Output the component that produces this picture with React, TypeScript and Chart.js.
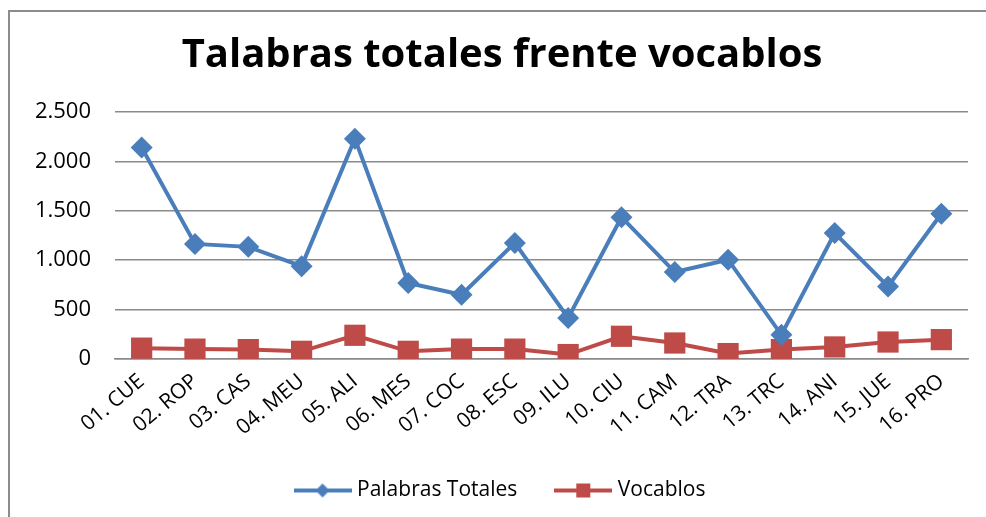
import React, { useEffect, useRef } from "react";
import { Chart, registerables } from "chart.js";

Chart.register(...registerables);

const categories = [
  "01. CUE", "02. ROP", "03. CAS", "04. MEU", "05. ALI", "06. MES", "07. COC", "08. ESC",
  "09. ILU", "10. CIU", "11. CAM", "12. TRA", "13. TRC", "14. ANI", "15. JUE", "16. PRO",
];
const palabrasTotales = [2140, 1165, 1135, 940, 2230, 770, 650, 1175, 415, 1435, 880, 1005, 245, 1275, 735, 1470];
const vocablos = [110, 100, 95, 78, 240, 78, 100, 100, 45, 230, 162, 55, 95, 122, 172, 196];
const yTicks = [0, 500, 1000, 1500, 2000, 2500];

const TITLE = "Talabras totales frente vocablos";
const BLUE = "#4A7EBB";
const RED = "#BE4B48";
const FONT = "'Open Sans', Lato, sans-serif";

function legendIcon(color: string, kind: "diamond" | "square") {
  const c = document.createElement("canvas");
  c.width = 58;
  c.height = 18;
  const ctx = c.getContext("2d")!;
  ctx.strokeStyle = color;
  ctx.lineWidth = 4;
  ctx.beginPath();
  ctx.moveTo(0, 9);
  ctx.lineTo(58, 9);
  ctx.stroke();
  ctx.fillStyle = color;
  if (kind === "diamond") {
    ctx.beginPath();
    ctx.moveTo(29, 2);
    ctx.lineTo(36, 9);
    ctx.lineTo(29, 16);
    ctx.lineTo(22, 9);
    ctx.closePath();
    ctx.fill();
  } else {
    ctx.fillRect(22, 2, 14, 14);
  }
  return c;
}

function fmt(v: number) {
  return String(v).replace(/\B(?=(\d{3})+(?!\d))/g, ".");
}

export default function App() {
  const ref = useRef<HTMLCanvasElement | null>(null);

  useEffect(() => {
    if (!ref.current) return;
    const icons = [legendIcon(BLUE, "diamond"), legendIcon(RED, "square")];
    const chart = new Chart(ref.current, {
      type: "line",
      data: {
        labels: categories,
        datasets: [
          {
            label: "Palabras Totales",
            data: palabrasTotales,
            borderColor: BLUE,
            backgroundColor: BLUE,
            borderWidth: 4,
            pointStyle: "rectRot",
            pointRadius: 11,
            pointBorderWidth: 0,
            tension: 0,
          },
          {
            label: "Vocablos",
            data: vocablos,
            borderColor: RED,
            backgroundColor: RED,
            borderWidth: 4,
            pointStyle: "rect",
            pointRadius: 15,
            pointBorderWidth: 0,
            tension: 0,
          },
        ],
      },
      options: {
        animation: false,
        responsive: false,
        maintainAspectRatio: false,
        layout: { padding: { left: 36, right: 18, top: 0, bottom: 6 } },
        plugins: {
          title: {
            display: true,
            text: TITLE,
            color: "#000",
            font: { family: FONT, size: 40, weight: "bold" },
            padding: { top: 32, bottom: 32 },
          },
          legend: {
            position: "bottom",
            labels: {
              color: "#000",
              font: { family: FONT, size: 21 },
              usePointStyle: true,
              pointStyleWidth: 48,
              padding: 42,
              generateLabels: (ch: any) => {
                const items = Chart.defaults.plugins.legend.labels.generateLabels(ch);
                items.forEach((it: any, i: number) => {
                  it.pointStyle = icons[i];
                });
                return items;
              },
            },
          },
          tooltip: { enabled: false },
        },
        scales: {
          x: {
            offset: true,
            grid: { display: false, drawTicks: false },
            border: { color: "#8a8a8a", width: 1.5 },
            ticks: {
              color: "#000",
              font: { family: FONT, size: 21 },
              minRotation: 40,
              maxRotation: 40,
              padding: 10,
              autoSkip: false,
            },
            afterFit: (s: any) => {
              s.height = 79;
            },
          },
          y: {
            min: 0,
            max: 2500,
            afterBuildTicks: (s: any) => {
              s.ticks = yTicks.map((v) => ({ value: v }));
            },
            grid: { color: "#8a8a8a", lineWidth: 1.5, drawTicks: false },
            border: { display: false },
            ticks: {
              color: "#000",
              font: { family: FONT, size: 22 },
              padding: 24,
              callback: (v: any) => fmt(Number(v)),
            },
            afterFit: (s: any) => {
              s.width = 79;
            },
          },
        },
      },
    });
    return () => chart.destroy();
  }, []);

  return (
    <div style={{ position: "absolute", left: 0, top: 0, width: 986, height: 517, overflow: "hidden", background: "#fff" }}>
      <div
        style={{
          position: "absolute",
          left: 8,
          top: 10,
          width: 1100,
          height: 700,
          border: "2px solid #8c8c8c",
          boxSizing: "border-box",
        }}
      />
      <canvas ref={ref} width={986} height={517} style={{ position: "absolute", left: 0, top: 0, display: "block" }} />
    </div>
  );
}
